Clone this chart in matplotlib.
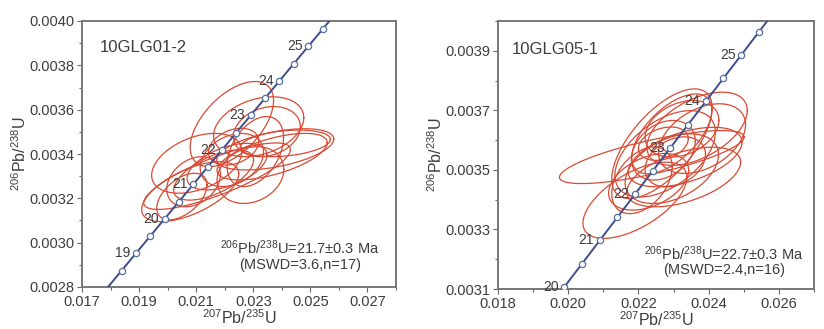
import numpy as np
import matplotlib
matplotlib.use('Agg')
import matplotlib.pyplot as plt
from matplotlib.ticker import MultipleLocator, FormatStrFormatter

plt.rcParams['font.family'] = ['Liberation Sans', 'DejaVu Sans']
plt.rcParams['mathtext.fontset'] = 'custom'
plt.rcParams['mathtext.rm'] = 'Liberation Sans'
plt.rcParams['mathtext.it'] = 'Liberation Sans'

# concordia points (Ma, 207Pb/235U, 206Pb/238U)
ages = [18, 18.5, 19, 19.5, 20, 20.5, 21, 21.5, 22, 22.5, 23, 23.5, 24, 24.5, 25, 25.5, 26]
conc_x = [0.017885, 0.018387, 0.018888, 0.019390, 0.019892, 0.020394, 0.020897, 0.021400, 0.021903,
          0.022406, 0.022910, 0.023414, 0.023918, 0.024422, 0.024927, 0.025432, 0.025937]
conc_y = [0.0027961, 0.0028739, 0.0029517, 0.0030295, 0.0031073, 0.0031851, 0.0032629, 0.0033408, 0.0034186,
          0.0034964, 0.0035743, 0.0036521, 0.0037299, 0.0038078, 0.0038857, 0.0039635, 0.0040414]

# error ellipses: centre x, centre y, half-width x, half-width y, rho
left_cx = [0.02225, 0.02319, 0.02377, 0.02412, 0.02290, 0.02173, 0.02102, 0.02091, 0.02050,
           0.02079, 0.02225, 0.02307, 0.02208, 0.02348, 0.02161, 0.02231, 0.02366]
left_cy = [0.003535, 0.003523, 0.003421, 0.003448, 0.003305, 0.003300, 0.003358, 0.003275, 0.003208,
           0.003230, 0.003373, 0.003411, 0.003343, 0.003501, 0.003305, 0.003433, 0.003388]
left_sx = [0.00146, 0.00158, 0.00205, 0.00158, 0.00117, 0.00257, 0.00158, 0.00094, 0.00088,
           0.00170, 0.00111, 0.00099, 0.00140, 0.00117, 0.00140, 0.00088, 0.00193]
left_sy = [0.000192, 0.000135, 0.000093, 0.000060, 0.000128, 0.000150, 0.000135, 0.000113, 0.000105,
           0.000135, 0.000120, 0.000158, 0.000105, 0.000113, 0.000113, 0.000083, 0.000105]
left_rho = [0.55, 0.3, 0.5, 0.3, 0.2, 0.8, 0.4, 0.3, 0.5, 0.6, 0.3, 0.4, 0.5, 0.2, 0.6, 0.3, 0.6]

right_cx = [0.02238, 0.02190, 0.02229, 0.02329, 0.02267, 0.02367, 0.02333, 0.02271,
            0.02271, 0.02276, 0.02295, 0.02324, 0.02210, 0.02381, 0.02295, 0.02305]
right_cy = [0.003543, 0.003398, 0.003460, 0.003476, 0.003588, 0.003638, 0.003543, 0.003566,
            0.003588, 0.003554, 0.003504, 0.003638, 0.003465, 0.003605, 0.003621, 0.003527]
right_sx = [0.00263, 0.00148, 0.00114, 0.00162, 0.00143, 0.00143, 0.00162, 0.00091,
            0.00071, 0.00143, 0.00133, 0.00105, 0.00086, 0.00124, 0.00114, 0.00086]
right_sy = [0.000089, 0.000128, 0.000095, 0.000100, 0.000184, 0.000123, 0.000100, 0.000100,
            0.000056, 0.000145, 0.000117, 0.000095, 0.000112, 0.000117, 0.000134, 0.000084]
right_rho = [0.76, 0.6, 0.4, 0.5, 0.65, 0.5, 0.5, 0.3, 0.3, 0.5, 0.4, 0.3, 0.4, 0.4, 0.6, 0.3]

panels = [
    dict(name='10GLG01-2', cx=left_cx, cy=left_cy, sx=left_sx, sy=left_sy, rho=left_rho,
         xlim=(0.017, 0.028), ylim=(0.0028, 0.0040), xmaj=0.017, ymaj=0.0028,
         labels=[19, 20, 21, 22, 23, 24, 25],
         txt=r'$^{206}$Pb/$^{238}$U=21.7±0.3 Ma' + '\n(MSWD=3.6,n=17)',
         pos=(82/824, 42/329, 314/824, 266/329), name_xy=(0.057, 0.902), txt_xy=(0.694, 0.12)),
    dict(name='10GLG05-1', cx=right_cx, cy=right_cy, sx=right_sx, sy=right_sy, rho=right_rho,
         xlim=(0.018, 0.027), ylim=(0.0031, 0.0040), xmaj=0.018, ymaj=0.0031,
         labels=[20, 21, 22, 23, 24, 25],
         txt=r'$^{206}$Pb/$^{238}$U=22.7±0.3 Ma' + '\n(MSWD=2.4,n=16)',
         pos=(498/824, 40/329, 316/824, 268/329), name_xy=(0.044, 0.892), txt_xy=(0.715, 0.106)),
]

fig = plt.figure(figsize=(8.24, 3.29), dpi=100)
t = np.linspace(0, 2*np.pi, 200)
tc = '#3c3c3c'

for p in panels:
    ax = fig.add_axes(p['pos'])
    for cx, cy, sx, sy, r in zip(p['cx'], p['cy'], p['sx'], p['sy'], p['rho']):
        ex = cx + sx*np.cos(t)
        ey = cy + sy*(r*np.cos(t) + np.sqrt(1 - r*r)*np.sin(t))
        ax.plot(ex, ey, '-', color='#d84a34', lw=0.9, zorder=2)
    ax.plot(conc_x, conc_y, '-', color='#3e4d8e', lw=1.4, zorder=3)
    ax.plot(conc_x[1:-1], conc_y[1:-1], 'o', ms=4.5, mfc='white', mec='#56709e', mew=0.9, zorder=4)
    for a, x, y in zip(ages, conc_x, conc_y):
        if a in p['labels']:
            ax.annotate(str(a), (x, y), xytext=(-4, 0), textcoords='offset points',
                        ha='right', va='center', fontsize=10, color=tc, zorder=5)
    ax.set_xlim(*p['xlim'])
    ax.set_ylim(*p['ylim'])
    ax.xaxis.set_major_locator(MultipleLocator(0.002, offset=p['xmaj'] % 0.002))
    ax.xaxis.set_minor_locator(MultipleLocator(0.001))
    ax.yaxis.set_major_locator(MultipleLocator(0.0002, offset=p['ymaj'] % 0.0002))
    ax.yaxis.set_minor_locator(MultipleLocator(0.0001))
    ax.xaxis.set_major_formatter(FormatStrFormatter('%.3f'))
    ax.yaxis.set_major_formatter(FormatStrFormatter('%.4f'))
    ax.tick_params(which='major', length=3.5, width=0.8, color='#666666', labelsize=10.5, labelcolor=tc, pad=2)
    ax.tick_params(which='minor', length=2.5, width=0.8, color='#666666')
    for s in ax.spines.values():
        s.set_color('#777777')
        s.set_linewidth(1.4)
    ax.set_xlabel(r'$^{207}$Pb/$^{235}$U', fontsize=11.5, color=tc, labelpad=0)
    ax.set_ylabel(r'$^{206}$Pb/$^{238}$U', fontsize=11.5, color=tc, labelpad=0)
    ax.text(p['name_xy'][0], p['name_xy'][1], p['name'], transform=ax.transAxes,
            fontsize=12, color=tc, ha='left', va='center')
    ax.text(p['txt_xy'][0], p['txt_xy'][1], p['txt'], transform=ax.transAxes, fontsize=10.5,
            color=tc, ha='center', va='center', multialignment='center', linespacing=1.05)

fig.savefig('out.png', dpi=100)
